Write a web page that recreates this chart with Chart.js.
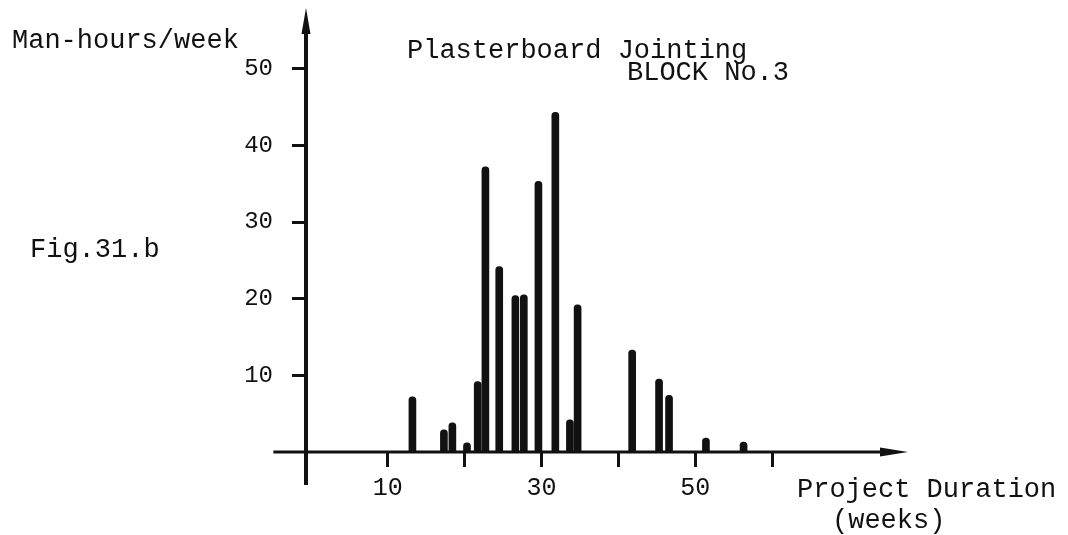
<!DOCTYPE html>
<html>
<head>
<meta charset="utf-8">
<script src="https://cdn.jsdelivr.net/npm/chart.js@4"></script>
<style>
  body { margin: 0; background: #fff; }
  #wrap { width: 1068px; height: 535px; position: relative; }
</style>
</head>
<body>
<div id="wrap"><canvas id="myChart"></canvas></div>
<script>
// Data (week of project, man-hours that week)
const weeks = [13.2, 17.3, 18.4, 20.3, 21.7, 22.7, 24.5, 26.6, 27.7, 29.6, 31.8, 33.7, 34.7, 41.8, 45.3, 46.6, 51.4, 56.3];
const hours = [7.2, 2.9, 3.8, 1.2, 9.2, 37.2, 24.2, 20.4, 20.5, 35.3, 44.3, 4.2, 19.2, 13.3, 9.5, 7.4, 1.8, 1.3];

// Tick values on the axes
const xTicks = [10, 20, 30, 40, 50, 60];
const xTickLabels = ["10", "", "30", "", "50", ""];
const yTicks = [10, 20, 30, 40, 50];

const ink = "#111";
const font = "Liberation Mono";

// Axes with arrows + the hand-written texts
const axesPlugin = {
    id: "axesPlugin",
    afterDraw(chart) {
        const ctx = chart.ctx;
        const xs = chart.scales.x;
        const ys = chart.scales.y;
        const x0 = xs.getPixelForValue(-0.65);
        const y0 = ys.getPixelForValue(0);

        ctx.save();
        ctx.strokeStyle = ink;
        ctx.fillStyle = ink;

        // horizontal axis
        const xl = xs.getPixelForValue(-4.9);
        const xr = xs.getPixelForValue(77.7);
        ctx.lineWidth = 3;
        ctx.beginPath();
        ctx.moveTo(xl, y0);
        ctx.lineTo(xr - 20, y0);
        ctx.stroke();
        ctx.beginPath();
        ctx.moveTo(xr, y0);
        ctx.lineTo(xr - 28, y0 - 4.5);
        ctx.lineTo(xr - 28, y0 + 4.5);
        ctx.closePath();
        ctx.fill();

        // vertical axis
        const yb = ys.getPixelForValue(-4.3);
        const yt = ys.getPixelForValue(57.9);
        ctx.lineWidth = 4;
        ctx.beginPath();
        ctx.moveTo(x0, yb);
        ctx.lineTo(x0, yt + 18);
        ctx.stroke();
        ctx.beginPath();
        ctx.moveTo(x0, yt);
        ctx.lineTo(x0 - 4.5, yt + 26);
        ctx.lineTo(x0 + 4.5, yt + 26);
        ctx.closePath();
        ctx.fill();

        // texts
        ctx.font = "27px '" + font + "'";
        ctx.textBaseline = "middle";
        ctx.textAlign = "left";
        ctx.fillText("Man-hours/week", 12, 41);
        ctx.fillText("Plasterboard Jointing", 407, 51);
        ctx.fillText("BLOCK No.3", 627, 73);
        ctx.fillText("Fig.31.b", 30, 250);
        ctx.fillText("Project Duration", 797, 490);
        ctx.fillText("(weeks)", 832, 521);
        ctx.restore();
    }
};

const ctx = document.getElementById("myChart").getContext("2d");
const myChart = new Chart(ctx, {
    type: "bar",
    data: {
        datasets: [{
            data: weeks.map((w, i) => ({ x: w, y: hours[i] })),
            backgroundColor: ink,
            borderWidth: 0,
            borderRadius: 3.5,
            barThickness: 7
        }]
    },
    options: {
        responsive: true,
        maintainAspectRatio: false,
        animation: false,
        layout: { padding: { top: 8, right: 160, left: 0, bottom: 0 } },
        plugins: {
            legend: { display: false },
            tooltip: { enabled: false }
        },
        scales: {
            x: {
                type: "linear",
                offset: false,
                min: -0.65,
                max: 77.7,
                afterBuildTicks: scale => { scale.ticks = xTicks.map(v => ({ value: v })); },
                afterFit: scale => { scale.height = 83; },
                border: { display: false },
                grid: { drawOnChartArea: false, offset: false, tickLength: 15, lineWidth: 3, color: ink },
                ticks: {
                    autoSkip: false,
                    maxRotation: 0,
                    padding: 6,
                    color: ink,
                    font: { family: font, size: 25 },
                    callback: (v) => xTickLabels[xTicks.indexOf(v)]
                }
            },
            y: {
                min: 0,
                max: 54.6, // top of plot box sits lower because of label padding; arrow is drawn above
                afterBuildTicks: scale => { scale.ticks = yTicks.map(v => ({ value: v })); },
                afterFit: scale => { scale.width = 306; },
                border: { display: false },
                grid: { drawOnChartArea: false, tickLength: 14, lineWidth: 3, color: ink },
                ticks: {
                    padding: 19,
                    color: ink,
                    font: { family: font, size: 24 }
                }
            }
        }
    },
    plugins: [axesPlugin]
});
</script>
</body>
</html>
